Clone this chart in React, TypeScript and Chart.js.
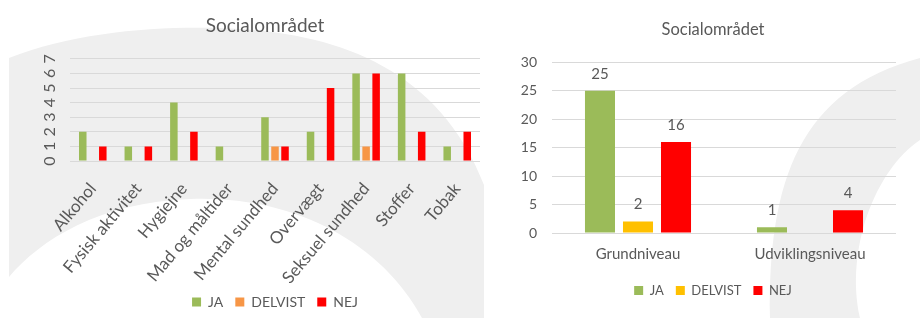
import React, { useEffect, useRef } from "react";
import { Chart, registerables } from "chart.js";

Chart.register(...registerables);

// ---------- data ----------
const chartTitle = "Socialområdet";
const seriesNames = ["JA", "DELVIST", "NEJ"];

const leftCategories = [
  "Alkohol",
  "Fysisk aktivitet",
  "Hygiejne",
  "Mad og måltider",
  "Mental sundhed",
  "Overvægt",
  "Seksuel sundhed",
  "Stoffer",
  "Tobak",
];
const leftJa = [2, 1, 4, 1, 3, 2, 6, 6, 1];
const leftDelvist = [0, 0, 0, 0, 1, 0, 1, 0, 0];
const leftNej = [1, 1, 2, 0, 1, 5, 6, 2, 2];
const leftMax = 7;
const leftStep = 1;

const rightCategories = ["Grundniveau", "Udviklingsniveau"];
const rightJa = [25, 1];
const rightDelvist = [2, 0];
const rightNej = [16, 4];
const rightMax = 30;
const rightStep = 5;

// ---------- styles ----------
const FONT = "Lato, 'Open Sans', sans-serif";
const TEXT = "#595959";
const GRID = "#d9d9d9";
const BG_GRAY = "#efefef";
const GREEN = "#9bbb59";
const ORANGE = "#f79646";
const YELLOW = "#ffc000";
const RED = "#ff0000";

const CANVAS_H = 340;
const LEFT_W = 540;
const RIGHT_X = 485;
const RIGHT_W = 435;
const X_LABEL_ROTATION = 50;

const leftBackground = {
  id: "leftBackground",
  beforeDraw(chart: any) {
    const ctx = chart.ctx;
    ctx.save();
    ctx.fillStyle = BG_GRAY;
    ctx.beginPath();
    ctx.moveTo(9, 58);
    ctx.bezierCurveTo(80, 30, 170, 25, 240, 29);
    ctx.bezierCurveTo(340, 35, 440, 70, 484, 185);
    ctx.lineTo(484, 318);
    ctx.lineTo(422, 318);
    ctx.bezierCurveTo(380, 240, 290, 195, 190, 199);
    ctx.bezierCurveTo(100, 202, 40, 240, 9, 277);
    ctx.closePath();
    ctx.fill();
    ctx.restore();
  },
};

const rightBackground = {
  id: "rightBackground",
  beforeDraw(chart: any) {
    const ctx = chart.ctx;
    const o = RIGHT_X;
    ctx.save();
    ctx.fillStyle = BG_GRAY;
    ctx.beginPath();
    ctx.moveTo(770 - o, 318);
    ctx.bezierCurveTo(768 - o, 180, 800 - o, 90, 920 - o, 58);
    ctx.lineTo(920 - o, 140);
    ctx.bezierCurveTo(875 - o, 170, 845 - o, 250, 860 - o, 318);
    ctx.closePath();
    ctx.fill();
    ctx.restore();
  },
};

const valueLabels = {
  id: "valueLabels",
  afterDatasetsDraw(chart: any) {
    const ctx = chart.ctx;
    ctx.save();
    ctx.font = `15px ${FONT}`;
    ctx.fillStyle = TEXT;
    ctx.textAlign = "center";
    ctx.textBaseline = "middle";
    chart.data.datasets.forEach((ds: any, i: number) => {
      const meta = chart.getDatasetMeta(i);
      meta.data.forEach((el: any, j: number) => {
        const v = ds.data[j];
        if (!v) return;
        ctx.fillText(String(v), el.x, el.y - 17);
      });
    });
    ctx.restore();
  },
};

function spacerAxis(width: number): any {
  return {
    position: "right",
    display: true,
    grid: { display: false, drawTicks: false },
    border: { display: false },
    ticks: { display: false },
    afterFit: (s: any) => {
      s.width = width;
    },
  };
}

function makeLeftConfig(): any {
  return {
    type: "bar",
    data: {
      labels: leftCategories,
      datasets: [
        { label: seriesNames[0], data: leftJa, backgroundColor: GREEN, borderWidth: 0 },
        { label: seriesNames[1], data: leftDelvist, backgroundColor: ORANGE, borderWidth: 0 },
        { label: seriesNames[2], data: leftNej, backgroundColor: RED, borderWidth: 0 },
      ],
    },
    options: {
      responsive: false,
      animation: false,
      datasets: { bar: { barPercentage: 0.75, categoryPercentage: 0.66 } },
      layout: { padding: { left: 38, right: LEFT_W - 492, top: 0, bottom: 21 } },
      plugins: {
        title: {
          display: true,
          text: chartTitle,
          color: TEXT,
          font: { family: FONT, size: 19, weight: "normal" },
          padding: { top: 14, bottom: 22 },
        },
        legend: {
          position: "bottom",
          fullSize: false,
          labels: {
            boxWidth: 9,
            boxHeight: 9,
            color: TEXT,
            font: { family: FONT, size: 14 },
            padding: 12,
          },
        },
        tooltip: { enabled: false },
      },
      scales: {
        x: {
          grid: { display: false, drawTicks: false },
          border: { display: false },
          ticks: {
            color: TEXT,
            font: { family: FONT, size: 17 },
            minRotation: X_LABEL_ROTATION,
            maxRotation: X_LABEL_ROTATION,
            autoSkip: false,
            padding: 18,
          },
          afterFit: (s: any) => {
            s.height = 122;
          },
        },
        y: {
          min: 0,
          max: leftMax,
          grid: { color: GRID, drawTicks: false },
          border: { display: false },
          ticks: {
            stepSize: leftStep,
            color: TEXT,
            font: { family: FONT, size: 16 },
            minRotation: 90,
            maxRotation: 90,
            crossAlign: "center",
            padding: 16,
          },
          afterFit: (s: any) => {
            s.width = 32;
          },
        },
        spacer: spacerAxis(12),
      },
    },
    plugins: [leftBackground],
  };
}

function makeRightConfig(): any {
  return {
    type: "bar",
    data: {
      labels: rightCategories,
      datasets: [
        { label: seriesNames[0], data: rightJa, backgroundColor: GREEN, borderWidth: 0 },
        { label: seriesNames[1], data: rightDelvist, backgroundColor: YELLOW, borderWidth: 0 },
        { label: seriesNames[2], data: rightNej, backgroundColor: RED, borderWidth: 0 },
      ],
    },
    options: {
      responsive: false,
      animation: false,
      datasets: { bar: { barPercentage: 0.79, categoryPercentage: 0.663 } },
      layout: { padding: { left: 35, right: 14, top: 0, bottom: 33 } },
      plugins: {
        title: {
          display: true,
          text: chartTitle,
          color: TEXT,
          font: { family: FONT, size: 16.5, weight: "normal" },
          padding: { top: 20, bottom: 22.5 },
        },
        legend: {
          position: "bottom",
          labels: {
            boxWidth: 9,
            boxHeight: 9,
            color: TEXT,
            font: { family: FONT, size: 13 },
            padding: 12,
          },
        },
        tooltip: { enabled: false },
      },
      scales: {
        x: {
          grid: { display: false, drawTicks: false },
          border: { display: false },
          ticks: {
            color: TEXT,
            font: { family: FONT, size: 15 },
            maxRotation: 0,
            autoSkip: false,
            padding: 12,
          },
          afterFit: (s: any) => {
            s.height = 39;
          },
        },
        y: {
          min: 0,
          max: rightMax,
          grid: { color: GRID, drawTicks: false },
          border: { display: false },
          ticks: {
            stepSize: rightStep,
            color: TEXT,
            font: { family: FONT, size: 14 },
            padding: 15,
          },
          afterFit: (s: any) => {
            s.width = 32;
          },
        },
        spacer: spacerAxis(10),
      },
    },
    plugins: [rightBackground, valueLabels],
  };
}

function ChartCanvas(props: { make: () => any; width: number; height: number; left: number }) {
  const ref = useRef<HTMLCanvasElement | null>(null);
  useEffect(() => {
    if (!ref.current) return;
    const chart = new Chart(ref.current, props.make());
    return () => chart.destroy();
  }, []);
  return (
    <canvas
      ref={ref}
      width={props.width}
      height={props.height}
      style={{
        position: "absolute",
        left: props.left,
        top: 0,
        width: props.width,
        height: props.height,
        display: "block",
      }}
    />
  );
}

export default function App() {
  return (
    <div
      style={{
        position: "fixed",
        left: 0,
        top: 0,
        width: 920,
        height: 318,
        overflow: "hidden",
        background: "#ffffff",
      }}
    >
      <ChartCanvas make={makeLeftConfig} width={LEFT_W} height={CANVAS_H} left={0} />
      <ChartCanvas make={makeRightConfig} width={RIGHT_W} height={CANVAS_H} left={RIGHT_X} />
    </div>
  );
}
